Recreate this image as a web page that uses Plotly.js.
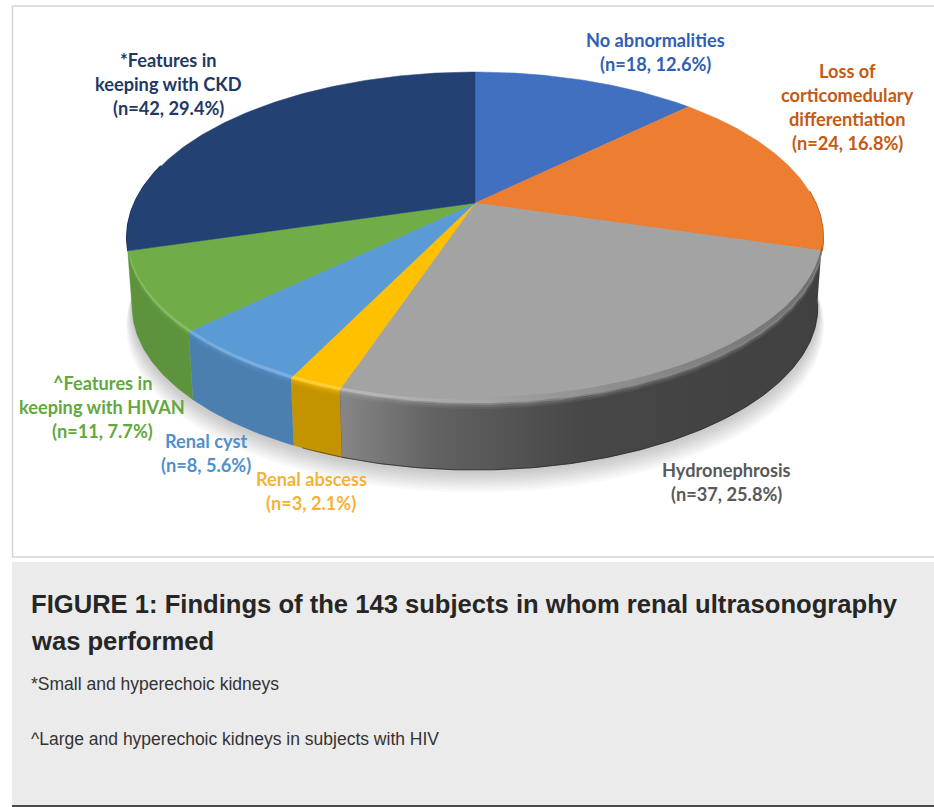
<!DOCTYPE html>
<html>
<head>
<meta charset="utf-8">
<script src="https://cdn.plot.ly/plotly-3.0.1.min.js"></script>
<style>html,body{margin:0;padding:0;background:#fff}#chart{width:934px;height:807px}</style>
</head>
<body>
<div id="chart"></div>
<script>
// ---- data (clockwise from 12 o'clock) ----
const categories = ['No abnormalities','Loss of corticomedulary differentiation','Hydronephrosis','Renal abscess','Renal cyst','^Features in keeping with HIVAN','*Features in keeping with CKD'];
const counts = [18,24,37,3,8,11,42];
const percents = [12.6,16.8,25.8,2.1,5.6,7.7,29.4];
const topColors = ['#4270c0','#ed7d31','#a3a3a3','#ffc000','#5b9bd5','#70ad47','#244174'];
const wallColors = ['#2f5597','#b35c1e','#444444','#c49300','#4a7fb0','#5c933c','#1b3360'];
const labelColors = ['#2f5fb3','#c55a11','#595959','#f5b335','#4f90cf','#62a83f','#1f3864'];
const labelLines = [
  ['No abnormalities','(n=18, 12.6%)'],
  ['Loss of','corticomedulary','differentiation','(n=24, 16.8%)'],
  ['Hydronephrosis','(n=37, 25.8%)'],
  ['Renal abscess','(n=3, 2.1%)'],
  ['Renal cyst','(n=8, 5.6%)'],
  ['^Features in','keeping with HIVAN','(n=11, 7.7%)'],
  ['*Features in','keeping with CKD','(n=42, 29.4%)']
];
const labelCenterX = [655,847,726,311,206,102,168];
const labelFirstY = [40,71,470,479,441,383,60];
const captionTitle = ['FIGURE 1: Findings of the 143 subjects in whom renal ultrasonography','was performed'];
const captionNotes = ['*Small and hyperechoic kidneys','^Large and hyperechoic kidneys in subjects with HIV'];

// ---- projection of the tilted disc ----
const CX=475, CY=203, R=340.4, H=158.3, K=0.2085, DEPTH=70, BOTTOM_SCALE=0.985, VIEW_WARP=0.8;
const D2R=Math.PI/180;
function proj(deg,dy,scale){
  const d=deg+VIEW_WARP*Math.sin(deg*D2R);
  const u=Math.sin(d*D2R), v=Math.cos(d*D2R), w=1+K*v, s=scale||1;
  return [CX+s*R*u/w, CY-s*H*v/w+(dy||0)];
}
function arc(a,b,dy,scale){
  const n=Math.max(2,Math.ceil(Math.abs(b-a)*1.5)), xs=[], ys=[];
  for(let i=0;i<=n;i++){const p=proj(a+(b-a)*i/n,dy,scale);xs.push(p[0]);ys.push(p[1]);}
  return [xs,ys];
}
const total=counts.reduce((s,c)=>s+c,0);
let acc=0;
const starts=[],ends=[];
counts.forEach(c=>{starts.push(acc/total*360);acc+=c;ends.push(acc/total*360);});
const VIS_A=Math.acos(-K)/D2R, VIS_B=360-VIS_A;

const traces=[];
const base={mode:'lines',hoverinfo:'skip',showlegend:false};

// soft ground shadow
for(let i=0;i<9;i++){
  const a=arc(0,360,DEPTH+3+i*2,BOTTOM_SCALE+0.002+i*0.002);
  traces.push(Object.assign({},base,{x:a[0],y:a[1],fill:'toself',line:{width:0},fillcolor:'rgba(0,0,0,0.022)'}));
}

// side wall of each slice that faces the viewer; the outer two slices run past it to the disc's widest points
const wallGrad={
  2:{start:338,stop:825,colorscale:[[0,'#878787'],[0.2,'#626262'],[0.5,'#474747'],[1,'#404040']]}
};
counts.forEach((c,i)=>{
  if(i===0||i===1||i===6) return;
  const a=i===2?VIS_A-3:starts[i], b=i===5?VIS_B:ends[i];
  const t=arc(a,b,0,1), m=arc(b,a,DEPTH,BOTTOM_SCALE);
  const tr=Object.assign({},base,{x:t[0].concat(m[0]),y:t[1].concat(m[1]),fill:'toself',
    line:{width:0.5,color:wallColors[i]},fillcolor:wallColors[i],name:categories[i]+' side'});
  if(wallGrad[i]) tr.fillgradient=Object.assign({type:'horizontal'},wallGrad[i]);
  traces.push(tr);
});
// darker outer edge of the two rear-side slices at the disc's tips
[[1,85],[6,285]].forEach(e=>{
  const i=e[0], a=i===1?e[1]:starts[i], b=i===1?ends[i]:e[1], t=arc(a,b,0,1);
  traces.push(Object.assign({},base,{x:t[0],y:t[1],line:{width:2,color:wallColors[i]}}));
});

// top face
counts.forEach((c,i)=>{
  const a=arc(starts[i],ends[i],0,1);
  traces.push(Object.assign({},base,{x:[CX].concat(a[0],[CX]),y:[CY].concat(a[1],[CY]),fill:'toself',
    line:{width:0.5,color:topColors[i]},fillcolor:topColors[i],name:categories[i],
    text:[categories[i]+' n='+c]}));
});

// rim: soft bevel between top face and wall
function hexA(h,al){return 'rgba('+parseInt(h.substr(1,2),16)+','+parseInt(h.substr(3,2),16)+','+parseInt(h.substr(5,2),16)+','+al+')';}
const bandAlpha=[0.6,0.3,0.12];
counts.forEach((c,i)=>{
  const a=Math.max(starts[i],VIS_A), b=Math.min(ends[i],VIS_B);
  if(b<=a||i===1||i===6) return;
  bandAlpha.forEach((al,j)=>{
    const t=arc(a,b,j*2,1), m=arc(b,a,(j+1)*2,1);
    traces.push(Object.assign({},base,{x:t[0].concat(m[0]),y:t[1].concat(m[1]),fill:'toself',
      line:{width:0},fillcolor:hexA(topColors[i],al)}));
  });
  const h1=arc(a,b,-3,1), h2=arc(b,a,0.5,1);
  traces.push(Object.assign({},base,{x:h1[0].concat(h2[0]),y:h1[1].concat(h2[1]),fill:'toself',line:{width:0},
    fillcolor:'rgba(255,255,255,0)',
    fillgradient:{type:'horizontal',start:130,stop:540,colorscale:[[0,'rgba(255,255,255,0.14)'],[0.55,'rgba(255,255,255,0.22)'],[0.8,'rgba(255,255,255,0.06)'],[1,'rgba(255,255,255,0)']]}}));
  const sh1=arc(a,b,-6,1), sh2=arc(b,a,0,1);
  if(i===2) traces.push(Object.assign({},base,{x:sh1[0].concat(sh2[0]),y:sh1[1].concat(sh2[1]),fill:'toself',line:{width:0},
    fillcolor:'rgba(0,0,0,0)',
    fillgradient:{type:'horizontal',start:480,stop:820,colorscale:[[0,'rgba(60,60,60,0)'],[1,'rgba(60,60,60,0.5)']]}}));
});
// dark base edge
const edge=arc(VIS_A-2,205,DEPTH,BOTTOM_SCALE);
traces.push(Object.assign({},base,{x:edge[0],y:edge[1],line:{width:1,color:'rgba(20,20,20,0.55)'}}));

// ---- text ----
const annotations=[];
const LABEL_FONT='Lato, Carlito, sans-serif', LABEL_SIZE=18.2, LABEL_STEP=24;
labelLines.forEach((lines,i)=>{
  lines.forEach((t,j)=>annotations.push({x:labelCenterX[i],y:labelFirstY[i]+j*LABEL_STEP,xref:'x',yref:'y',text:t,showarrow:false,
    xanchor:'center',yanchor:'middle',font:{family:LABEL_FONT,size:LABEL_SIZE,color:labelColors[i],weight:700}}));
});
const CAP_FONT='"Liberation Sans", Arial, sans-serif';
captionTitle.forEach((t,j)=>annotations.push({x:29,y:604+j*37,xref:'x',yref:'y',text:'<b>'+t+'</b>',showarrow:false,xanchor:'left',yanchor:'middle',
  font:{family:CAP_FONT,size:25.6,color:'#262626'}}));
captionNotes.forEach((t,j)=>annotations.push({x:29,y:684+j*55,xref:'x',yref:'y',text:t,showarrow:false,xanchor:'left',yanchor:'middle',
  font:{family:CAP_FONT,size:17.5,color:'#333333'}}));

const layout={
  width:934,height:807,margin:{l:0,r:0,t:0,b:0},paper_bgcolor:'#ffffff',plot_bgcolor:'#ffffff',showlegend:false,hovermode:false,
  xaxis:{range:[0,934],visible:false,fixedrange:true},
  yaxis:{range:[807,0],visible:false,fixedrange:true},
  shapes:[
    {type:'rect',layer:'below',x0:12.5,x1:940,y0:6,y1:557,line:{color:'#d4d4d4',width:1.5},fillcolor:'#ffffff'},
    {type:'rect',layer:'below',x0:12,x1:934,y0:562,y1:806,line:{width:0},fillcolor:'#ebebeb'},
    {type:'line',layer:'below',x0:12,x1:934,y0:806,y1:806,line:{color:'#111111',width:1.5}}
  ],
  annotations:annotations
};
Plotly.newPlot('chart',traces,layout,{displayModeBar:false,staticPlot:true});
</script>
</body>
</html>
